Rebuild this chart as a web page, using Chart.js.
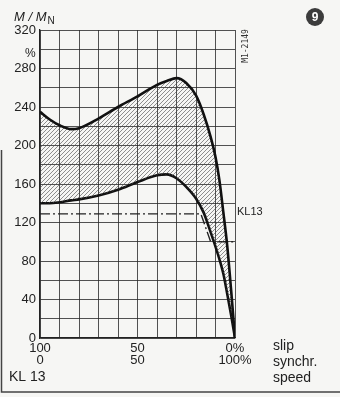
<!DOCTYPE html>
<html>
<head>
<meta charset="utf-8">
<title>KL 13 torque curve</title>
<script src="https://cdn.jsdelivr.net/npm/chart.js"></script>
<style>
  body { margin: 0; background: #f6f6f4; }
</style>
</head>
<body>
<canvas id="chart" width="340" height="397"></canvas>

<script>
// speed in % of synchronous speed (slip = 100 - speed)
const speed     = [0,   5,   10,  16,  20,  30,  40,  50,  60,  65,  70,  75,  80,  84,  87.5, 90,  92,  94,  96, 98, 100];
const maxTorque = [235, 227, 221, 217, 218, 228, 240, 251, 263, 267, 270, 265, 252, 232, 209,  188, 164, 131, 96, 50, 0];
const minTorque = [140, 140, 141, 143, 144, 148, 154, 162, 169, 170, 166, 157, 145, 130, 110,  95,  82,  67,  46, 24, 0];

// dash-dot line (KL13 rating)
const ratedSpeed  = [0,   82.5, 87.5, 100];
const ratedTorque = [129, 129,  100,  100];

const yLabelled = [0, 40, 80, 120, 160, 200, 240, 280, 320];
const xLabelled = [0, 50, 100];
const slipLabels = ['100', '50', '0%'];
const syncLabels = ['0', '50', '100%'];

function hatch() {
  const c = document.createElement('canvas');
  c.width = 8; c.height = 8;
  const g = c.getContext('2d');
  g.strokeStyle = 'rgba(70,70,70,0.75)';
  g.lineWidth = 0.8;
  g.beginPath();
  for (let k = -8; k <= 16; k += 4) {
    g.moveTo(k, 8);
    g.lineTo(k + 8, 0);
  }
  g.stroke();
  return g.createPattern(c, 'repeat');
}

const pts = (xs, ys) => xs.map((x, i) => ({ x: x, y: ys[i] }));

const extras = {
  id: 'extras',
  afterDraw(chart) {
    const c = chart.ctx;
    c.save();
    c.fillStyle = '#222';
    c.textBaseline = 'alphabetic';

    // axis title M/M_N
    c.font = 'italic 13px "Liberation Sans", Arial, sans-serif';
    c.textAlign = 'left';
    c.fillText('M / M', 14, 21);
    const w = c.measureText('M / M').width;
    c.font = '10px "Liberation Sans", Arial, sans-serif';
    c.fillText('N', 14 + w + 1, 24);

    c.font = '12px "Liberation Sans", Arial, sans-serif';
    c.fillText('%', 25, 57);

    // drawing number, rotated
    c.save();
    c.translate(246, 46);
    c.rotate(-Math.PI / 2);
    c.font = '8px "DejaVu Sans Mono", monospace';
    c.textAlign = 'center';
    c.textBaseline = 'middle';
    c.fillStyle = '#333';
    c.fillText('M1-2149', 0, 0);
    c.restore();

    // figure number
    c.beginPath();
    c.arc(315, 17, 9, 0, Math.PI * 2);
    c.fillStyle = '#3c3c3c';
    c.fill();
    c.fillStyle = '#fff';
    c.font = 'bold 12px "Liberation Sans", Arial, sans-serif';
    c.textAlign = 'center';
    c.textBaseline = 'middle';
    c.fillText('9', 315, 17.5);

    c.fillStyle = '#222';
    c.textAlign = 'left';
    c.font = '11px "Liberation Sans", Arial, sans-serif';
    c.fillText('KL13', 237, 212);

    c.font = '14px "Liberation Sans", Arial, sans-serif';
    c.fillText('slip', 273, 346);
    c.fillText('synchr.', 273, 362);
    c.fillText('speed', 273, 378);
    c.fillText('KL 13', 9, 377);

    // frame of the page box
    c.strokeStyle = '#444';
    c.lineWidth = 1.5;
    c.beginPath();
    c.moveTo(1.5, 150);
    c.lineTo(1.5, 392);
    c.lineTo(340, 392);
    c.stroke();
    c.restore();
  }
};

const ctx = document.getElementById('chart').getContext('2d');
const chart = new Chart(ctx, {
  type: 'line',
  data: {
    datasets: [
      {
        data: pts(speed, maxTorque),
        borderColor: '#111',
        borderWidth: 2.6,
        backgroundColor: hatch(),
        fill: '+1',
        pointRadius: 0,
        cubicInterpolationMode: 'monotone'
      },
      {
        data: pts(speed, minTorque),
        borderColor: '#111',
        borderWidth: 2.6,
        fill: false,
        pointRadius: 0,
        cubicInterpolationMode: 'monotone'
      },
      {
        data: pts(ratedSpeed, ratedTorque),
        borderColor: '#222',
        borderWidth: 1.4,
        borderDash: [10, 3, 2, 3],
        fill: false,
        pointRadius: 0,
        tension: 0
      }
    ]
  },
  options: {
    responsive: false,
    animation: false,
    layout: { padding: { left: 0, right: 105, top: 30, bottom: 0 } },
    plugins: { legend: { display: false }, tooltip: { enabled: false } },
    scales: {
      x: {
        type: 'linear',
        min: 0, max: 100,
        afterFit: s => { s.height = 59; },
        grid: { color: 'rgba(40,40,40,0.8)', lineWidth: 1, drawTicks: false },
        border: { color: '#222', width: 1.3 },
        ticks: {
          stepSize: 10,
          autoSkip: false,
          maxRotation: 0,
          padding: 4,
          color: '#222',
          font: { family: '"Liberation Sans", Arial, sans-serif', size: 13, lineHeight: 0.95 },
          callback: v => {
            const i = xLabelled.indexOf(v);
            return i < 0 ? '' : [slipLabels[i], syncLabels[i]];
          }
        }
      },
      y: {
        min: 0, max: 320,
        afterFit: s => { s.width = 40; },
        grid: { color: 'rgba(40,40,40,0.8)', lineWidth: 1, drawTicks: false },
        border: { color: '#222', width: 1.3 },
        ticks: {
          stepSize: 20,
          padding: 4,
          color: '#222',
          font: { family: '"Liberation Sans", Arial, sans-serif', size: 13 },
          callback: v => yLabelled.includes(v) ? String(v) : ''
        }
      }
    }
  },
  plugins: [extras]
});
</script>
</body>
</html>
